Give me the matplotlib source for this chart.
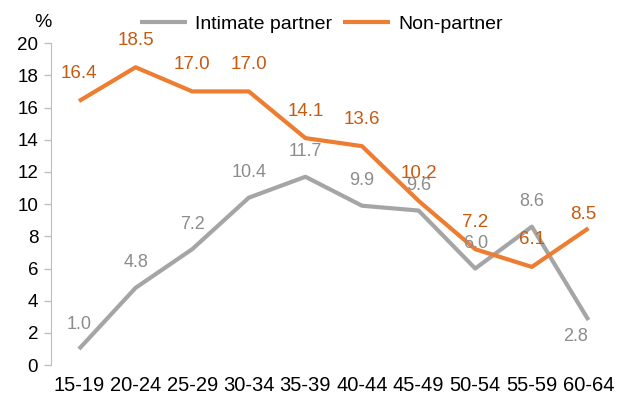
import matplotlib.pyplot as plt
import numpy as np

plt.rcParams['font.family'] = ['Liberation Sans', 'DejaVu Sans']

# ==== data ====
age_groups = ['15-19', '20-24', '25-29', '30-34', '35-39',
              '40-44', '45-49', '50-54', '55-59', '60-64']
intimate = [1.0, 4.8, 7.2, 10.4, 11.7, 9.9, 9.6, 6.0, 8.6, 2.8]
non_partner = [16.4, 18.5, 17.0, 17.0, 14.1, 13.6, 10.2, 7.2, 6.1, 8.5]

gray = '#a5a5a5'
orange = '#ed7d31'
x = np.arange(len(age_groups))

fig = plt.figure(figsize=(6.18, 4.03), dpi=100)
ax = fig.add_axes([0.082, 0.094, 0.916, 0.799])

ax.plot(x, intimate, color=gray, lw=3, label='Intimate partner', solid_capstyle='butt')
ax.plot(x, non_partner, color=orange, lw=3, label='Non-partner', solid_capstyle='butt')

# value labels
for i, v in enumerate(intimate):
    off = (0, 18)
    if i == len(intimate) - 1:
        off = (-9, -12)
    ax.annotate(f'{v:.1f}', (x[i], v), xytext=off, textcoords='offset points',
                ha='center', va='center', fontsize=13, color='#8c8c8c')
for i, v in enumerate(non_partner):
    off = (0, 19.5)
    if i == len(non_partner) - 1:
        off = (-4, 10)
    ax.annotate(f'{v:.1f}', (x[i], v), xytext=off, textcoords='offset points',
                ha='center', va='center', fontsize=13.5, color='#c55a11')

ax.set_xlim(-0.5, len(age_groups) - 0.5)
ax.set_ylim(0, 20)
ax.set_yticks(range(0, 21, 2))
ax.set_xticks(x)
ax.set_xticklabels(age_groups, fontsize=14.5)
ax.tick_params(axis='y', labelsize=13.5, length=5, color='#bfbfbf', width=1, pad=4)
ax.tick_params(axis='x', length=0, pad=8)

for s in ['top', 'right', 'bottom']:
    ax.spines[s].set_visible(False)
ax.spines['left'].set_color('#bfbfbf')

fig.text(0.07, 0.945, '%', fontsize=14, ha='center', va='center')

fig.legend(loc='center', bbox_to_anchor=(0.52, 0.94), ncol=2, frameon=False,
           fontsize=14, handlelength=2.4, handletextpad=0.4, columnspacing=0.6)

plt.savefig('out.png', dpi=100)
